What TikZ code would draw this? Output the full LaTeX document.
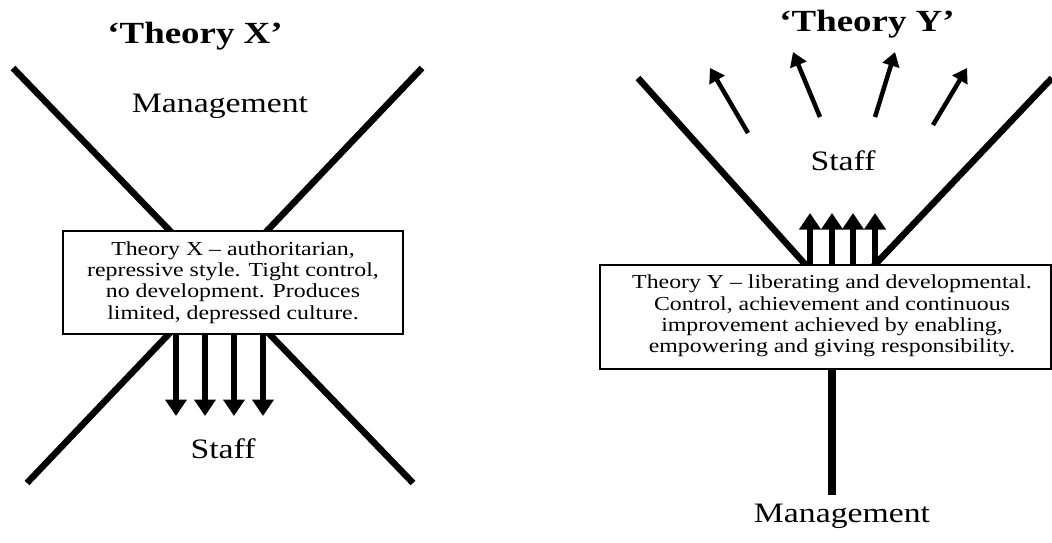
\documentclass[tikz,border=0pt]{standalone}
\usepackage{fontspec}
\setmainfont[FakeStretch=1.2]{Liberation Serif}
\usetikzlibrary{arrows.meta}

\begin{document}
\begin{tikzpicture}[x=0.02cm, y=-0.02cm,
  bar/.style={line width=0.13cm},
  bigarrow/.style={line width=0.11cm, -{Triangle[length=0.33cm, width=0.42cm]}},
  smallarrow/.style={line width=0.09cm, -{Triangle[length=0.28cm, width=0.34cm]}},
  boxtext/.style={align=center, inner sep=0pt, font=\fontsize{11.3}{12.1}\selectfont},
  infobox/.style={boxtext, draw, line width=0.8pt, fill=white},
  biglabel/.style={anchor=base, font=\fontsize{16}{19}\selectfont},
  heading/.style={anchor=base, font=\fontsize{17.5}{20}\selectfont\bfseries}]
  \useasboundingbox (0,0) rectangle (1052,542);

  % Theory X
  \node[heading] (titleX) at (195,43) {‘Theory X’};
  \draw[bar] (13,68) -- (413,483);
  \draw[bar] (422,68) -- (27,483);
  \node[infobox, minimum width=6.8cm, minimum height=2.06cm] (boxX) at (233,282.5)
    {Theory X – authoritarian,\\ repressive style. Tight control,\\ no development. Produces\\ limited, depressed culture.};
  \node[biglabel] (mgmtX) at (220,112) {Management};
  \node[biglabel] (staffX) at (223,458) {Staff};
  \foreach \x in {176,205,234,263}
    \draw[bigarrow] (\x,334) -- (\x,416);

  % Theory Y
  \node[heading] (titleY) at (867,31) {‘Theory Y’};
  \draw[bar] (638,78) -- (812,272);
  \draw[bar] (1052,78) -- (868,272);
  \node[infobox, minimum width=9.02cm, minimum height=2.08cm] (boxY) at (825.5,317) {};
  \node[boxtext] (textY) at (832,316)
    {Theory Y – liberating and developmental.\\ Control, achievement and continuous\\ improvement achieved by enabling,\\ empowering and giving responsibility.};
  \node[biglabel] (staffY) at (843,170) {Staff};
  \node[biglabel] (mgmtY) at (842,522) {Management};
  \draw[line width=0.15cm] (832,369) -- (832,495);
  \foreach \x in {810,832,853,875}
    \draw[bigarrow] (\x,265) -- (\x,213);
  \foreach \a/\b/\c/\d in {748/133/710/68, 820/117/793/52, 875/117/895/52, 933/125/967/68}
    \draw[smallarrow] (\a,\b) -- (\c,\d);
\end{tikzpicture}
\end{document}
